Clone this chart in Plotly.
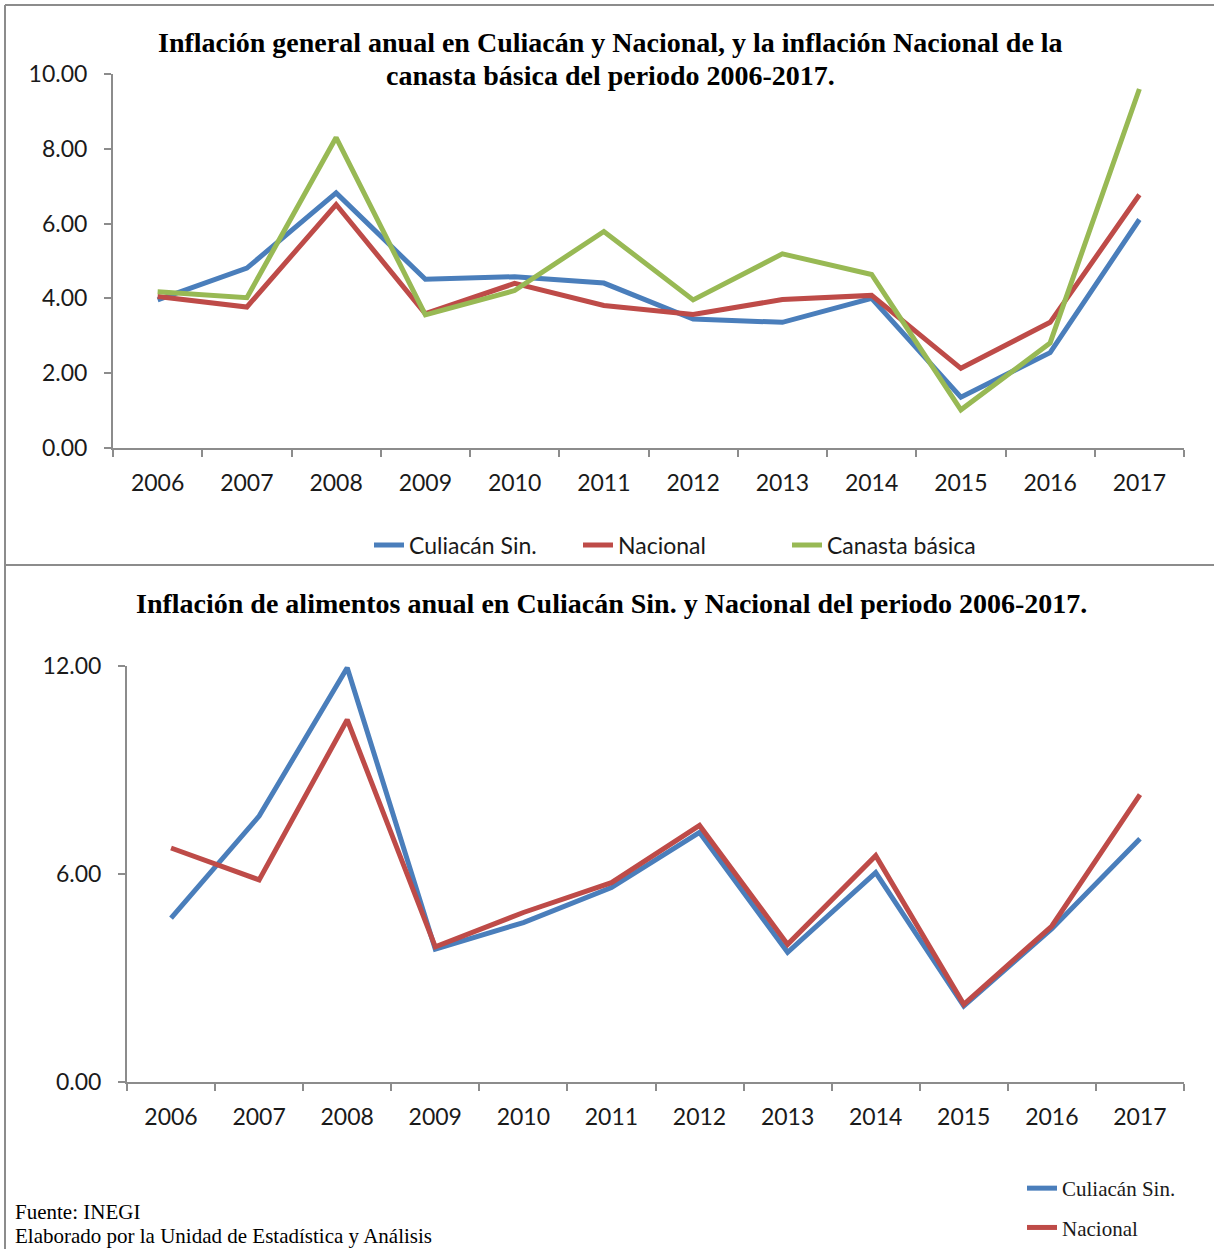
import plotly.graph_objects as go

years = ["2006", "2007", "2008", "2009", "2010", "2011", "2012", "2013", "2014", "2015", "2016", "2017"]

# Panel 1: general inflation
gen_culiacan = [3.96, 4.81, 6.82, 4.51, 4.58, 4.41, 3.45, 3.36, 4.00, 1.36, 2.55, 6.11]
gen_nacional = [4.05, 3.77, 6.51, 3.59, 4.40, 3.81, 3.57, 3.97, 4.08, 2.13, 3.36, 6.77]
gen_canasta = [4.18, 4.02, 8.30, 3.56, 4.21, 5.79, 3.96, 5.19, 4.64, 1.02, 2.81, 9.60]

# Panel 2: food inflation
ali_culiacan = [4.73, 7.67, 11.95, 3.83, 4.60, 5.61, 7.20, 3.74, 6.04, 2.19, 4.42, 7.02]
ali_nacional = [6.75, 5.83, 10.45, 3.90, 4.89, 5.75, 7.40, 3.97, 6.53, 2.24, 4.50, 8.29]

top_yticks = [0, 2, 4, 6, 8, 10]
bot_yticks = [0, 6, 12]

BLUE = "#4A7EBB"
RED = "#BE4B48"
GREEN = "#98B954"
AXIS = "#8C8C8C"
W, H = 1214, 1249

def px_x(p):
    return p / W

def px_y(p):
    return 1 - p / H

fig = go.Figure()

fig.add_trace(go.Scatter(x=years, y=gen_culiacan, name="Culiacán Sin.", mode="lines",
                         line=dict(color=BLUE, width=5), xaxis="x", yaxis="y", legend="legend"))
fig.add_trace(go.Scatter(x=years, y=gen_nacional, name="Nacional", mode="lines",
                         line=dict(color=RED, width=5), xaxis="x", yaxis="y", legend="legend"))
fig.add_trace(go.Scatter(x=years, y=gen_canasta, name="Canasta básica", mode="lines",
                         line=dict(color=GREEN, width=5), xaxis="x", yaxis="y", legend="legend"))

fig.add_trace(go.Scatter(x=years, y=ali_culiacan, name="Culiacán Sin.", mode="lines",
                         line=dict(color=BLUE, width=5), xaxis="x2", yaxis="y2", legend="legend2",
                         legendgroup="a"))
fig.add_trace(go.Scatter(x=years, y=ali_nacional, name="Nacional", mode="lines",
                         line=dict(color=RED, width=5), xaxis="x2", yaxis="y2", legend="legend2",
                         legendgroup="b"))

tick_font = dict(family="Lato, Carlito, sans-serif", size=23, color="#1a1a1a")

xcommon = dict(type="category", range=[-0.5, 11.5], showline=True, linecolor=AXIS, linewidth=2,
               ticks="outside", tickson="boundaries", ticklen=7, tickwidth=2, tickcolor=AXIS,
               showgrid=False, zeroline=False, tickfont=tick_font, ticklabelstandoff=13,
               fixedrange=True, automargin=False)
ycommon = dict(showline=True, linecolor=AXIS, linewidth=2, ticks="outside", ticklen=7,
               tickwidth=2, tickcolor=AXIS, showgrid=False, zeroline=False,
               tickformat=".2f", tickfont=tick_font, ticklabelstandoff=12, fixedrange=True,
               automargin=False)

fig.update_layout(
    width=W, height=H,
    margin=dict(l=0, r=0, t=0, b=0, pad=0, autoexpand=False),
    paper_bgcolor="white", plot_bgcolor="white",
    xaxis=dict(domain=[px_x(113), px_x(1184)], anchor="y", **xcommon),
    yaxis=dict(domain=[px_y(448), px_y(74)], anchor="x", range=[0, 10], tickvals=top_yticks, **ycommon),
    xaxis2=dict(domain=[px_x(127), px_x(1184)], anchor="y2", **xcommon),
    yaxis2=dict(domain=[px_y(1082), px_y(666)], anchor="x2", range=[0, 12], tickvals=bot_yticks, **ycommon),
    legend=dict(orientation="h", x=px_x(369), xanchor="left", y=px_y(545), yanchor="middle",
                font=dict(family="Lato, Carlito, sans-serif", size=23, color="#1a1a1a"),
                bgcolor="rgba(0,0,0,0)", itemwidth=30, entrywidth=164),
    legend2=dict(orientation="v", x=px_x(1022), xanchor="left", y=px_y(1168), yanchor="top",
                 font=dict(family="Liberation Serif, Times New Roman, serif", size=21, color="#1a1a1a"),
                 bgcolor="rgba(0,0,0,0)", tracegroupgap=9),
    showlegend=True,
)

title_font = dict(family="Liberation Serif, Times New Roman, serif", size=28, color="black")
fig.add_annotation(text="<b>Inflación general anual en Culiacán y Nacional, y la inflación Nacional de la</b>",
                   x=px_x(610), y=px_y(43), xref="paper", yref="paper", showarrow=False,
                   xanchor="center", yanchor="middle", font=title_font)
fig.add_annotation(text="<b>canasta básica del periodo 2006-2017.</b>",
                   x=px_x(610), y=px_y(76), xref="paper", yref="paper", showarrow=False,
                   xanchor="center", yanchor="middle", font=title_font)
fig.add_annotation(text="<b>Inflación de alimentos anual en Culiacán Sin. y Nacional del periodo 2006-2017.</b>",
                   x=px_x(611), y=px_y(603), xref="paper", yref="paper", showarrow=False,
                   xanchor="center", yanchor="middle", font=title_font)

foot_font = dict(family="Liberation Serif, Times New Roman, serif", size=21, color="black")
fig.add_annotation(text="Fuente: INEGI", x=px_x(13), y=px_y(1212), xref="paper", yref="paper",
                   showarrow=False, xanchor="left", yanchor="middle", font=foot_font)
fig.add_annotation(text="Elaborado por la Unidad de Estadística y Análisis", x=px_x(13), y=px_y(1236),
                   xref="paper", yref="paper", showarrow=False, xanchor="left", yanchor="middle",
                   font=foot_font)

border = dict(color="#8C8C8C", width=2)
fig.add_shape(type="line", xref="paper", yref="paper", x0=px_x(5), x1=1, y0=px_y(5), y1=px_y(5), line=border)
fig.add_shape(type="line", xref="paper", yref="paper", x0=px_x(5), x1=px_x(5), y0=px_y(5), y1=0, line=border)
fig.add_shape(type="line", xref="paper", yref="paper", x0=px_x(5), x1=1, y0=px_y(565), y1=px_y(565), line=border)

fig.write_html("out.html", config={"displayModeBar": False},
               post_script="document.body.style.margin='0';document.body.style.overflow='hidden';")
